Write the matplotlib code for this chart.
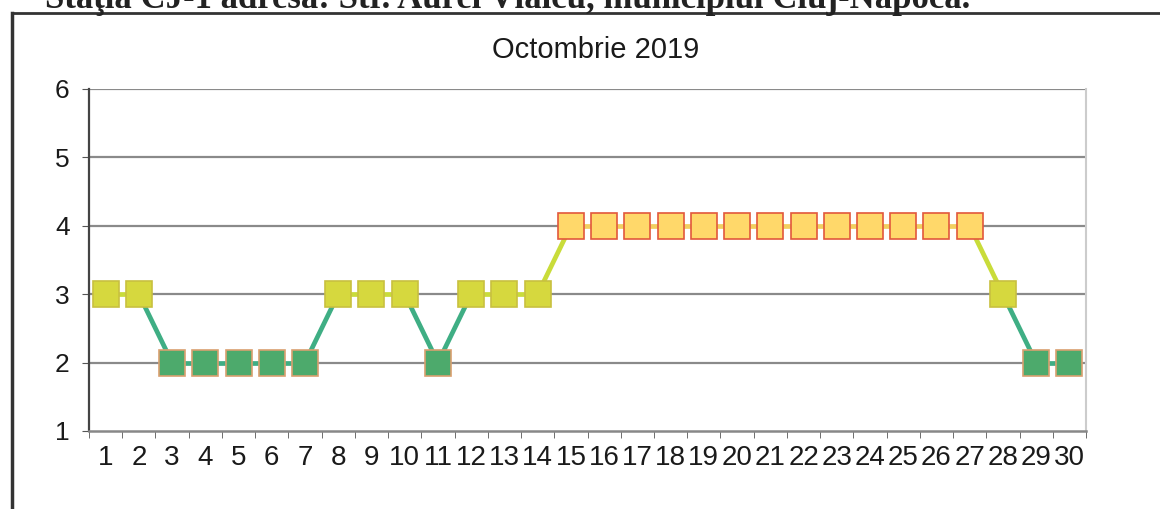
import numpy as np
import matplotlib
matplotlib.use("Agg")
import matplotlib.pyplot as plt
from matplotlib.lines import Line2D

# Daily values, October 2019
days = list(range(1, 31))
values = [3, 3, 2, 2, 2, 2, 2, 3, 3, 3, 2, 3, 3, 3,
          4, 4, 4, 4, 4, 4, 4, 4, 4, 4, 4, 4, 4, 3, 2, 2]
y_ticks = [1, 2, 3, 4, 5, 6]
title = "Octombrie 2019"
header = "Staţia CJ-1 adresa: Str. Aurel Vlaicu, municipiul Cluj-Napoca."

# colour per level: (line, marker face, marker edge)
level_style = {
    2: ("#3fae84", "#4daa6c", "#d9a070"),
    3: ("#c9dc3a", "#d6d83e", "#c8c040"),
    4: ("#f2d060", "#ffd86a", "#e2583c"),
}

plt.rcParams["font.family"] = ["Liberation Sans", "DejaVu Sans"]

fig = plt.figure(figsize=(11.6, 5.09), dpi=100)

# scanned page header, cut at the top edge as in the scan
fig.text(45 / 1160, 1 - 8 / 509, header, fontsize=25, fontweight="bold",
         family=["Liberation Serif", "DejaVu Serif"], va="baseline", color="#222222")

# outer chart frame
frame = fig.add_axes([0, 0, 1, 1], facecolor="none")
frame.set_xlim(0, 1160)
frame.set_ylim(509, 0)
frame.axis("off")
frame.add_line(Line2D([12, 1160], [13, 13], color="#333333", lw=2))
frame.add_line(Line2D([12, 12], [13, 509], color="#333333", lw=2.5))

ax = fig.add_axes([89 / 1160, 78 / 509, 997 / 1160, 342 / 509])
ax.set_xlim(0.5, 30.5)
ax.set_ylim(1, 6)

ax.set_yticks(y_ticks)
ax.set_yticklabels([str(t) for t in y_ticks], fontsize=19, color="#1a1a1a")
for t in y_ticks[1:]:
    ax.axhline(t, color="#8a8a8a", lw=1.6, zorder=1)

ax.set_xticks(days)
ax.set_xticklabels([str(d) for d in days], fontsize=20, color="#1a1a1a")
ax.set_xticks(np.arange(0.5, 31, 1), minor=True)
ax.tick_params(axis="x", which="major", length=0, pad=10)
ax.tick_params(axis="x", which="minor", length=5, direction="out", color="#555555")
ax.tick_params(axis="y", length=5, direction="out", pad=9, color="#555555")

ax.spines["top"].set_visible(False)
ax.spines["left"].set_color("#444444")
ax.spines["left"].set_linewidth(1.6)
ax.spines["bottom"].set_color("#888888")
ax.spines["bottom"].set_linewidth(1.8)
ax.spines["right"].set_color("#cccccc")
ax.spines["right"].set_linewidth(1.5)

# segments coloured by the lower of the two levels
for i in range(len(days) - 1):
    lvl = min(values[i], values[i + 1])
    ax.plot(days[i:i + 2], values[i:i + 2], color=level_style[lvl][0],
            lw=3.4, solid_capstyle="butt", zorder=2)

for lvl, (lc, fc, ec) in level_style.items():
    xs = [d for d, v in zip(days, values) if v == lvl]
    ys = [v for v in values if v == lvl]
    ax.plot(xs, ys, ls="none", marker="s", markersize=18.5, markerfacecolor=fc,
            markeredgecolor=ec, markeredgewidth=1.2, zorder=3)

fig.text(596 / 1160, 1 - 50 / 509, title, fontsize=21, ha="center", va="center",
         color="#1a1a1a")

fig.savefig("out.png", dpi=100)
